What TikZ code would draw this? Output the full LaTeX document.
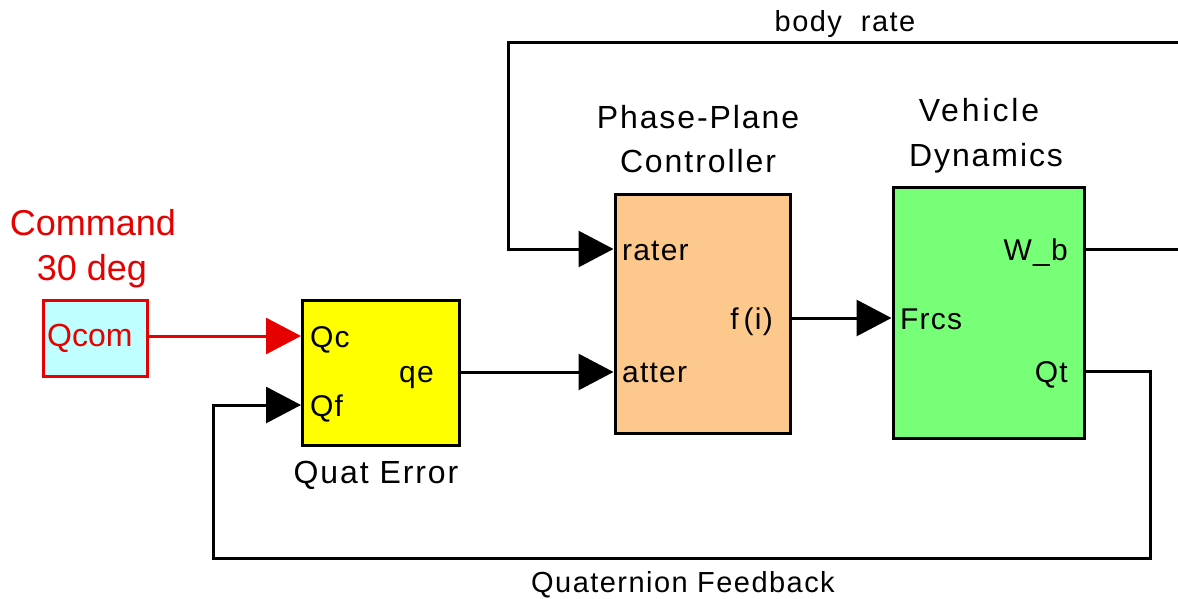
\documentclass[tikz,border=0pt]{standalone}
\usepackage{fontspec}
\setmainfont{Liberation Sans}
\usetikzlibrary{arrows.meta}
\definecolor{cmdred}{RGB}{230,0,0}
\definecolor{cyanfill}{RGB}{191,255,255}
\definecolor{errfill}{RGB}{255,255,0}
\definecolor{ctrlfill}{RGB}{253,200,140}
\definecolor{vehfill}{RGB}{120,255,120}
\begin{document}
\begin{tikzpicture}[x=1pt,y=-1pt,
  block/.style={draw=black, line width=3pt, inner sep=0pt},
  portlbl/.style={inner sep=0pt, font=\fontsize{30pt}{36pt}\selectfont\addfontfeature{LetterSpace=4}},
  titlelbl/.style={inner sep=0pt, font=\fontsize{32pt}{38pt}\selectfont\addfontfeature{LetterSpace=6}},
  wirelbl/.style={inner sep=0pt, font=\fontsize{29pt}{35pt}\selectfont\addfontfeature{LetterSpace=5}},
  wire/.style={line width=3pt, line join=miter},
  sig/.style={wire, -{Triangle[length=35pt,width=36pt]}}]
\useasboundingbox (0,0) rectangle (1178,598);
\clip (0,0) rectangle (1178,598);

% blocks
\node[block, draw=cmdred, fill=cyanfill, minimum width=104pt, minimum height=76pt] (qcom) at (95,338.5) {};
\node[block, fill=errfill, minimum width=157pt, minimum height=145pt] (qerr) at (381,373) {};
\node[block, fill=ctrlfill, minimum width=175pt, minimum height=239pt] (ctrl) at (702.5,313.5) {};
\node[block, fill=vehfill, minimum width=191pt, minimum height=251pt] (veh) at (988.5,312.5) {};

% command source
\node[inner sep=0pt, anchor=base, text=cmdred, font=\fontsize{36pt}{42pt}\selectfont] (cmd1) at (93,235) {Command};
\node[inner sep=0pt, anchor=base, text=cmdred, font=\fontsize{36pt}{42pt}\selectfont] (cmd2) at (92,280.5) {30 deg};
\node[inner sep=0pt, anchor=base west, text=cmdred, font=\fontsize{32pt}{38pt}\selectfont] (qcomlbl) at (47,346) {Qcom};

% block titles
\node[titlelbl, anchor=base] (errtitle) at (376,483) {Quat Error};
\node[titlelbl, anchor=base] (ctrltitle1) at (698,128) {Phase-Plane};
\node[titlelbl, anchor=base] (ctrltitle2) at (698,172.5) {Controller};
\node[titlelbl, anchor=base, font=\fontsize{32pt}{38pt}\selectfont\addfontfeature{LetterSpace=9}] (vehtitle1) at (979,121.5) {Vehicle};
\node[titlelbl, anchor=base] (vehtitle2) at (986,166) {Dynamics};

% port coordinates
\coordinate (qcout) at (qcom.east |- 0,336);
\coordinate (qcin) at (qerr.west |- 0,336);
\coordinate (qfin) at (qerr.west |- 0,405);
\coordinate (qeout) at (qerr.east |- 0,372);
\coordinate (raterin) at (ctrl.west |- 0,249);
\coordinate (atterin) at (ctrl.west |- 0,372);
\coordinate (fout) at (ctrl.east |- 0,318);
\coordinate (frcsin) at (veh.west |- 0,318);
\coordinate (wbout) at (veh.east |- 0,249);
\coordinate (qtout) at (veh.east |- 0,371);

% port labels
\node[portlbl, anchor=base west] (qclbl) at (310,347) {Qc};
\node[portlbl, anchor=base west] (qflbl) at (310,416) {Qf};
\node[portlbl, anchor=base east] (qelbl) at (434,382) {qe};
\node[portlbl, anchor=base west] (raterlbl) at (622,260) {rater};
\node[portlbl, anchor=base west] (atterlbl) at (622,382) {atter};
\node[portlbl, anchor=base east] (flbl) at (773,329) {f\,(i)};
\node[portlbl, anchor=base west] (frcslbl) at (900,329) {Frcs};
\node[portlbl, anchor=base east] (wblbl) at (1068,260) {W\_b};
\node[portlbl, anchor=base east] (qtlbl) at (1068,382) {Qt};

% signal lines
\draw[sig, draw=cmdred, fill=cmdred] (qcout) -- (qcin);
\draw[sig] (qeout) -- (atterin);
\draw[sig] (fout) -- (frcsin);
\draw[sig] (wbout) -- (1186,249) -- (1186,42) -- (508,42) |- (raterin);
\draw[sig] (qtout) -- (1150,371) -- (1150,558) -- (213,558) |- (qfin);

% wire labels
\node[wirelbl, anchor=base] (bodyrate) at (845,31) {body\ \ rate};
\node[wirelbl, anchor=base] (quatfb) at (683,592) {Quaternion Feedback};
\end{tikzpicture}
\end{document}
